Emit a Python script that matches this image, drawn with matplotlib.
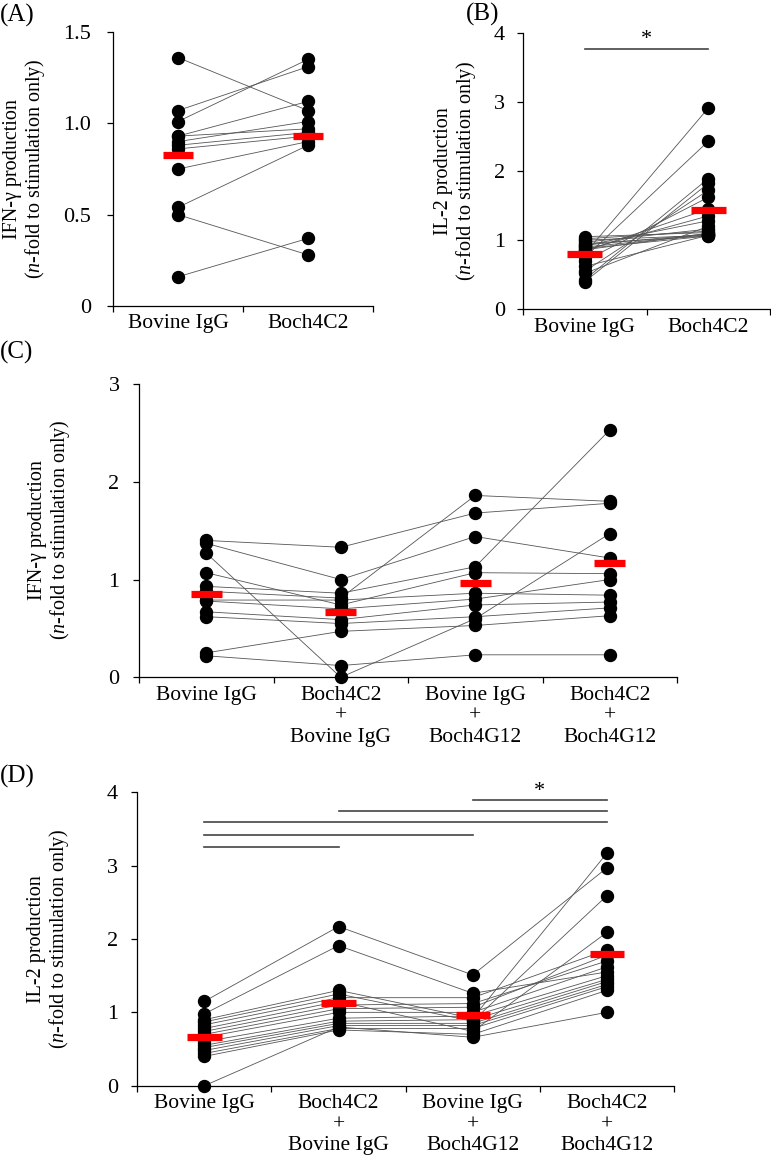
import numpy as np
import matplotlib
matplotlib.use("Agg")
import matplotlib.pyplot as plt

plt.rcParams['font.family'] = ['Liberation Serif', 'DejaVu Serif']
plt.rcParams['mathtext.fontset'] = 'custom'
plt.rcParams['mathtext.rm'] = 'Liberation Serif'
plt.rcParams['mathtext.it'] = 'Liberation Serif:italic'

# ---------------- data ----------------
# Panel A : IFN-gamma, 2 groups (paired)
a_labels = ["Bovine IgG", "Boch4C2"]
a_bovine_igg = [1.36, 1.07, 1.01, 0.93, 0.93, 0.90, 0.88, 0.86, 0.75, 0.54, 0.50, 0.16]
a_boch4c2    = [1.07, 1.31, 1.35, 1.12, 0.97, 1.01, 0.95, 0.93, 0.90, 0.88, 0.28, 0.37]

# Panel B : IL-2, 2 groups (paired)
b_labels = ["Bovine IgG", "Boch4C2"]
b_bovine_igg = [1.05, 1.02, 1.00, 0.97, 0.95, 0.93, 0.92, 0.90, 0.88, 0.86,
                0.86, 0.84, 0.80, 0.75, 0.70, 0.62, 0.55, 0.52, 0.43, 0.40]
b_boch4c2    = [1.11, 1.13, 1.07, 1.16, 1.06, 1.09, 1.28, 1.08, 1.06, 1.35,
                1.10, 1.45, 2.91, 2.43, 1.62, 1.07, 1.72, 1.20, 1.89, 1.82]

# Panel C : IFN-gamma, 4 groups (paired)
c_labels = ["Bovine IgG", "Boch4C2\n+\nBovine IgG", "Bovine IgG\n+\nBoch4G12", "Boch4C2\n+\nBoch4G12"]
c_g1 = [1.40, 1.37, 1.27, 1.07, 0.93, 0.88, 0.79, 0.78, 0.67, 0.62, 0.25, 0.22]
c_g2 = [1.33, 1.00, 0.00, 0.74, 0.86, 0.81, 0.79, 0.70, 0.59, 0.55, 0.47, 0.12]
c_g3 = [1.68, 1.44, 0.60, 1.07, 1.13, 1.86, 0.86, 0.80, 0.74, 0.62, 0.53, 0.23]
c_g4 = [1.78, 1.22, 1.47, 1.06, 2.53, 1.80, 0.84, 1.00, 0.77, 0.71, 0.63, 0.23]

# Panel D : IL-2, 4 groups (paired)
d_labels = c_labels
d_g1 = [1.15, 0.98, 0.90, 0.87, 0.83, 0.78, 0.74, 0.70, 0.66, 0.60, 0.55, 0.52, 0.48, 0.44, 0.40, 0.00]
d_g2 = [2.17, 1.91, 1.30, 1.25, 1.20, 1.15, 1.10, 1.05, 1.00, 0.92, 0.88, 0.85, 0.82, 0.78, 0.76, 0.80]
d_g3 = [1.51, 1.26, 0.92, 0.88, 1.20, 0.74, 1.12, 1.07, 1.00, 0.95, 0.90, 0.85, 0.82, 0.78, 0.70, 0.66]
d_g4 = [2.97, 1.55, 3.17, 2.59, 1.85, 2.09, 1.70, 1.78, 1.62, 1.50, 1.45, 1.42, 1.38, 1.35, 1.30, 1.00]

# significance brackets (group i, group j, height, star)
b_sig = [(0, 1, 3.77, True)]
d_sig = [(0, 1, 3.25, False), (0, 2, 3.42, False), (0, 3, 3.59, False),
         (1, 3, 3.74, False), (2, 3, 3.89, True)]

# ---------------- layout ----------------
W, H = 771, 1171
fig = plt.figure(figsize=(W / 100, H / 100), dpi=100)


def rect(x0, yt, x1, yb):
    return [x0 / W, 1 - yb / H, (x1 - x0) / W, (yb - yt) / H]


def draw_panel(ax, groups, labels, ymax, yticks, yticklabels, ypad, barhalf, sig=()):
    n = len(groups)
    arr = np.array(groups)
    xs = np.arange(n)
    for subj in arr.T:
        ax.plot(xs, subj, color='#555555', lw=0.6, zorder=1)
    for i in range(n):
        ax.plot(np.full(arr.shape[1], xs[i]), arr[i], 'o', color='black', ms=8.6,
                mec='black', zorder=2, clip_on=False)
        m = arr[i].mean()
        ax.plot([xs[i] - barhalf, xs[i] + barhalf], [m, m], color='#ff0000', lw=5.2,
                solid_capstyle='butt', zorder=3)
    ax.set_xlim(-0.5, n - 0.5)
    ax.set_ylim(0, ymax)
    for s in ['top', 'right']:
        ax.spines[s].set_visible(False)
    for s in ['left', 'bottom']:
        ax.spines[s].set_linewidth(0.9)
    ax.set_xticks(np.arange(n + 1) - 0.5)
    ax.set_xticklabels([])
    ax.set_xticks(xs, minor=True)
    ax.set_xticklabels(labels, minor=True, fontsize=15.5, linespacing=1.15)
    ax.tick_params(axis='x', which='major', length=4.5, width=0.9, direction='out')
    ax.tick_params(axis='x', which='minor', length=0, pad=6)
    ax.set_yticks(yticks)
    ax.set_yticklabels(yticklabels, fontsize=16)
    ax.tick_params(axis='y', length=4.5, width=0.9, direction='out', pad=ypad)
    for (i, j, h, star) in sig:
        ax.plot([xs[i], xs[j]], [h, h], color='#444444', lw=1.2, clip_on=False)
        if star:
            ax.text((xs[i] + xs[j]) / 2, h + 0.06 * ymax / 4, '*', ha='center',
                    va='baseline', fontsize=16)


ylab_ifn = "IFN-γ production\n($\\it{n}$-fold to stimulation only)"
ylab_il2 = "IL-2 production\n($\\it{n}$-fold to stimulation only)"

axA = fig.add_axes(rect(113, 32, 373, 306))
draw_panel(axA, [a_bovine_igg, a_boch4c2], a_labels, 1.5, [0, 0.5, 1.0, 1.5],
           ["0", "0.5", "1.0", "1.5"], 11, 0.115)

axB = fig.add_axes(rect(523, 32.7, 770, 309.3))
draw_panel(axB, [b_bovine_igg, b_boch4c2], b_labels, 4, [0, 1, 2, 3, 4],
           ["0", "1", "2", "3", "4"], 8.5, 0.14, b_sig)

axC = fig.add_axes(rect(139, 384, 677, 677.3))
draw_panel(axC, [c_g1, c_g2, c_g3, c_g4], c_labels, 3, [0, 1, 2, 3],
           ["0", "1", "2", "3"], 9.5, 0.115)

axD = fig.add_axes(rect(137.3, 792.3, 674, 1085.7))
draw_panel(axD, [d_g1, d_g2, d_g3, d_g4], d_labels, 4, [0, 1, 2, 3, 4],
           ["0", "1", "2", "3", "4"], 9.5, 0.128, d_sig)


def ftext(x, y, s, **kw):
    fig.text(x / W, 1 - y / H, s, **kw)


ftext(25, 169, ylab_ifn, rotation=90, ha='center', va='center', fontsize=14.5, linespacing=1.08)
ftext(456, 171, ylab_il2, rotation=90, ha='center', va='center', fontsize=14.5, linespacing=1.08)
ftext(50, 530, ylab_ifn, rotation=90, ha='center', va='center', fontsize=14.5, linespacing=1.08)
ftext(49, 939, ylab_il2, rotation=90, ha='center', va='center', fontsize=14.5, linespacing=1.08)

for (x, y, s) in [(0, 15, "(A)"), (466, 14, "(B)"), (0, 352, "(C)"), (0, 776, "(D)")]:
    ftext(x, y, s, ha='left', va='center', fontsize=18)

fig.savefig("out.png", dpi=100)
